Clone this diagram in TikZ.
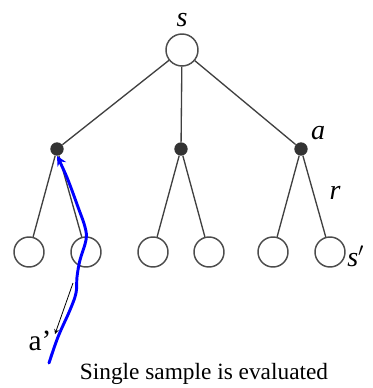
\documentclass[tikz,border=0pt]{standalone}
\usepackage{fontspec}
\setmainfont{Liberation Serif}
\begin{document}
\begin{tikzpicture}[x=0.75pt, y=-0.75pt, >=stealth,
	state/.style={circle, draw=black!70, line width=1.1pt, minimum size=22.5pt, inner sep=0pt},
	act/.style={circle, fill=black!80, minimum size=10pt, inner sep=0pt},
	branch/.style={draw=black!75, line width=1pt},
	lbl/.style={font=\fontsize{21}{21}\selectfont\itshape}]
	\useasboundingbox (0,0) rectangle (372,388);
	% tree
	\node[state, minimum size=24pt] (s0) at (182,50) {};
	\node[act] (a1) at (57,149) {};
	\node[act] (a2) at (181,149) {};
	\node[act] (a3) at (301,149) {};
	\foreach \i/\x in {1/29,2/86,3/153,4/209,5/273,6/330}
		\node[state] (l\i) at (\x,252) {};
	\foreach \a in {a1,a2,a3}
		\draw[branch] (s0) -- (\a);
	\draw[branch] (a1) -- (l1) (a1) -- (l2)
		(a2) -- (l3) (a2) -- (l4)
		(a3) -- (l5) (a3) -- (l6);
	\path 
	(182,20) node[lbl] (ls) {s}
	(318,133) node[lbl] (la) {a}
	(335,193) node[lbl] (lr) {r}
	(347,256) node[lbl, anchor=west, inner sep=0pt] (lsp) {s$'$};
	% sample
	\node[font=\fontsize{22}{22}\selectfont] (ap) at (40,341) {a’};
	\node[font=\fontsize{17.5}{17.5}\selectfont] (cap) at (204,374) {Single sample is evaluated};
	\coordinate (p0) at (73,283);
	\coordinate (p1) at (55,334);
	\draw[->, black, line width=0.6pt] (p0) -- (p1);
	\coordinate (b0) at (49,363);
	\draw[->, blue, line width=2.2pt, line cap=round] plot[smooth, tension=0.6] coordinates {(b0) (58,337) (70,310) (76,293) (77,277) (80,260) (86,240) (85,227) (78,207) (68,180) (60,162) (a1.south)};
\end{tikzpicture}
\end{document}
